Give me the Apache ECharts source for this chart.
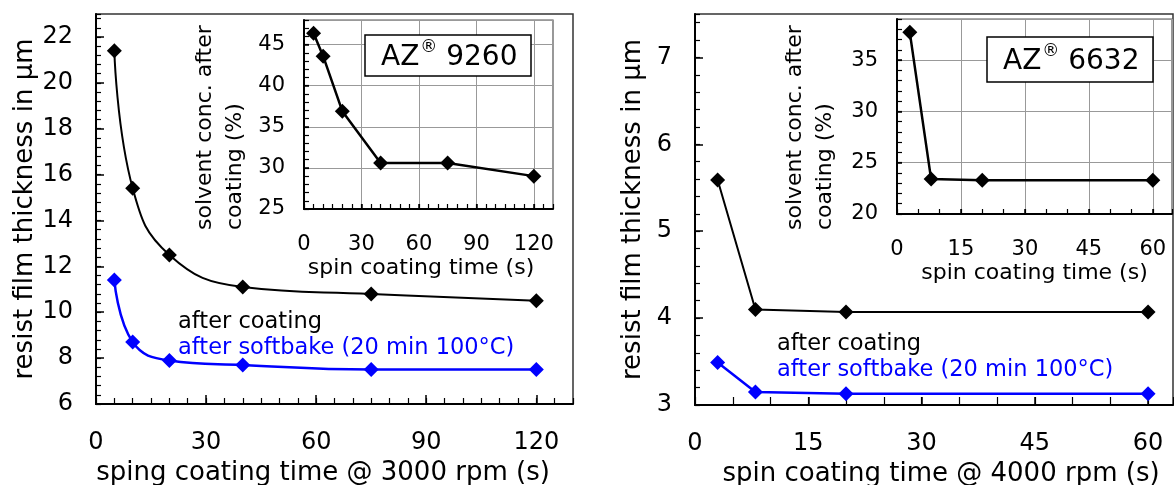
<!DOCTYPE html>
<html>
<head>
<meta charset="utf-8">
<script src="https://cdn.jsdelivr.net/npm/echarts@6/dist/echarts.min.js"></script>
<style>
  html, body { margin: 0; padding: 0; background: #fff; }
  #chart { width: 1174px; height: 485px; }
</style>
</head>
<body>
<div id="chart"></div>
<script>
// AZ 9260 @ 3000 rpm
var timeLeft = [5, 10, 20, 40, 75, 120];
var coatLeft = [21.4, 15.4, 12.5, 11.1, 10.8, 10.5];
var bakeLeft = [11.4, 8.7, 7.9, 7.7, 7.5, 7.5];
var solventLeft = [46.4, 43.6, 36.9, 30.6, 30.6, 29.0];

// AZ 6632 @ 4000 rpm
var timeRight = [3, 8, 20, 60];
var coatRight = [5.59, 4.10, 4.07, 4.07];
var bakeRight = [3.49, 3.15, 3.13, 3.13];
var solventRight = [37.7, 23.4, 23.3, 23.3];

var nameCoat = 'after coating';
var nameBake = 'after softbake (20 min 100°C)';
var FONT = '"DejaVu Sans", Verdana, sans-serif';
var BLUE = '#0000ff';

function pairs(xs, ys) {
    var d = [];
    for (var i = 0; i < xs.length; i++) {
        d.push([xs[i], ys[i]]);
    }
    return d;
}

//主轴：刻度标签、长刻度、分割线
function mainAxis(dim, grid, min, max, interval, o) {
    var ax = {
        type: 'value',
        gridIndex: grid,
        position: dim === 'x' ? 'bottom' : 'left',
        min: min,
        max: max,
        interval: interval,
        name: o.name || '',
        nameLocation: 'middle',
        nameGap: o.nameGap || 0,
        nameTextStyle: {
            fontSize: o.nameSize || 26,
            fontFamily: FONT,
            color: '#000',
            padding: o.namePadding || 0
        },
        axisLine: { show: true, onZero: false, lineStyle: { color: '#000', width: 2 } },
        axisTick: { show: true, inside: true, length: o.tickLen || 8, lineStyle: { color: '#000', width: 1.5 } },
        axisLabel: {
            show: true,
            margin: o.margin,
            fontSize: o.fontSize || 24,
            fontFamily: FONT,
            color: '#000',
            showMaxLabel: false
        },
        splitLine: { show: !!o.grid, lineStyle: { color: '#999', width: 1 } }
    };
    return ax;
}

//副轴：只画小刻度
function tickAxis(dim, grid, min, max, interval, len) {
    return {
        type: 'value',
        gridIndex: grid,
        position: dim === 'x' ? 'bottom' : 'left',
        min: min,
        max: max,
        interval: interval,
        axisLine: { show: false, onZero: false },
        axisTick: { show: true, inside: true, length: len, lineStyle: { color: '#000', width: 1.2 } },
        axisLabel: { show: false },
        splitLine: { show: false }
    };
}

var xAxes = [
    mainAxis('x', 0, 0, 130, 30, { margin: 27, tickLen: 9, name: 'sping coating time @ 3000 rpm (s)', nameGap: 54, namePadding: [0, 23, 0, 0] }),
    tickAxis('x', 0, 0, 130, 5, 6),
    mainAxis('x', 1, 0, 130, 30, { margin: 25, fontSize: 21, tickLen: 5, grid: true, name: 'spin coating time (s)', nameGap: 48, nameSize: 22, namePadding: [0, 15, 0, 0] }),
    tickAxis('x', 1, 0, 130, 5, 5),
    mainAxis('x', 2, 0, 63.3, 15, { margin: 27, tickLen: 8, name: 'spin coating time @ 4000 rpm (s)', nameGap: 54, namePadding: [0, 0, 0, 14] }),
    tickAxis('x', 2, 0, 63.3, 5, 8),
    mainAxis('x', 3, 0, 64.5, 15, { margin: 25, fontSize: 21, tickLen: 5, grid: true, name: 'spin coating time (s)', nameGap: 48, nameSize: 22 }),
    tickAxis('x', 3, 0, 64.5, 5, 5)
];

var yAxes = [
    mainAxis('y', 0, 6, 23, 2, { margin: 23, tickLen: 8, name: 'resist film thickness in μm', nameGap: 57 }),
    tickAxis('y', 0, 6, 23, 0.4, 5),
    mainAxis('y', 1, 25, 48, 5, { margin: 19, fontSize: 21, tickLen: 5, grid: true }),
    tickAxis('y', 1, 25, 48, 1, 5),
    mainAxis('y', 2, 3, 7.5, 1, { margin: 23, tickLen: 8, name: 'resist film thickness in μm', nameGap: 49 }),
    tickAxis('y', 2, 3, 7.5, 0.2, 5),
    mainAxis('y', 3, 20, 39, 5, { margin: 19, fontSize: 21, tickLen: 5, grid: true }),
    tickAxis('y', 3, 20, 39, 1, 5)
];

function lineSeries(name, x, y, data, color, width, smooth) {
    return {
        name: name,
        type: 'line',
        xAxisIndex: x,
        yAxisIndex: y,
        data: data,
        smooth: smooth,
        symbol: 'diamond',
        symbolSize: 15,
        showAllSymbol: true,
        animation: false,
        lineStyle: { color: color, width: width },
        itemStyle: { color: color }
    };
}

function azBox(text, left, top, pad) {
    return {
        text: '{a|AZ}{s|®}{a| ' + text + '}',
        left: left,
        top: top,
        padding: pad,
        backgroundColor: '#fff',
        borderColor: '#000',
        borderWidth: 1.5,
        textStyle: {
            fontWeight: 'normal',
            rich: {
                a: { fontSize: 28, fontWeight: 'normal', fontFamily: FONT, color: '#000', verticalAlign: 'bottom', lineHeight: 33 },
                s: { fontSize: 17, fontWeight: 'normal', fontFamily: FONT, color: '#000', verticalAlign: 'top', lineHeight: 33, padding: [0, 0, 13, 1] }
            }
        }
    };
}

function legendBox(left, top) {
    return {
        left: left,
        top: top,
        orient: 'vertical',
        icon: 'none',
        itemWidth: 0,
        itemHeight: 10,
        itemGap: 3,
        selectedMode: false,
        textStyle: { fontSize: 22.5, fontFamily: FONT, padding: 0 },
        data: [
            { name: nameCoat, textStyle: { color: '#000' } },
            { name: nameBake, textStyle: { color: BLUE } }
        ]
    };
}

var myChart = echarts.init(document.getElementById('chart'));

var option = {
    backgroundColor: '#fff',
    animation: false,
    textStyle: { fontFamily: FONT },
    grid: [
        { left: 96, top: 14, width: 477, height: 390, outerBoundsMode: 'none', containLabel: false, show: true, borderColor: '#333', borderWidth: 1.5 },
        { left: 304, top: 20, width: 249, height: 189, outerBoundsMode: 'none', containLabel: false, show: true, backgroundColor: '#fff', borderColor: '#555', borderWidth: 1.2 },
        { left: 695, top: 14, width: 478, height: 391, outerBoundsMode: 'none', containLabel: false, show: true, borderColor: '#333', borderWidth: 1.5 },
        { left: 897, top: 19, width: 275, height: 195, outerBoundsMode: 'none', containLabel: false, show: true, backgroundColor: '#fff', borderColor: '#555', borderWidth: 1.2 }
    ],
    xAxis: xAxes,
    yAxis: yAxes,
    title: [
        azBox('9260', 365, 35, [4, 14, 4, 16]),
        azBox('6632', 987, 37, [6, 14, 6, 16])
    ],
    legend: [
        legendBox(168, 306),
        legendBox(767, 328)
    ],
    graphic: [
        {
            type: 'text', x: 220, y: 230, rotation: Math.PI / 2,
            style: { text: 'solvent conc. after\ncoating (%)', font: '22px ' + FONT, fill: '#000', align: 'left', verticalAlign: 'middle', lineHeight: 30 }
        },
        {
            type: 'text', x: 810, y: 230, rotation: Math.PI / 2,
            style: { text: 'solvent conc. after\ncoating (%)', font: '22px ' + FONT, fill: '#000', align: 'left', verticalAlign: 'middle', lineHeight: 30 }
        }
    ],
    series: [
        lineSeries(nameCoat, 0, 0, pairs(timeLeft, coatLeft), '#000', 2, 0.45),
        lineSeries(nameBake, 0, 0, pairs(timeLeft, bakeLeft), BLUE, 2.5, 0.45),
        lineSeries('solvent 9260', 2, 2, pairs(timeLeft, solventLeft), '#000', 2.5, false),
        lineSeries(nameCoat, 4, 4, pairs(timeRight, coatRight), '#000', 2, false),
        lineSeries(nameBake, 4, 4, pairs(timeRight, bakeRight), BLUE, 2.5, false),
        lineSeries('solvent 6632', 6, 6, pairs(timeRight, solventRight), '#000', 2.5, false)
    ]
};

myChart.setOption(option);
</script>
</body>
</html>
